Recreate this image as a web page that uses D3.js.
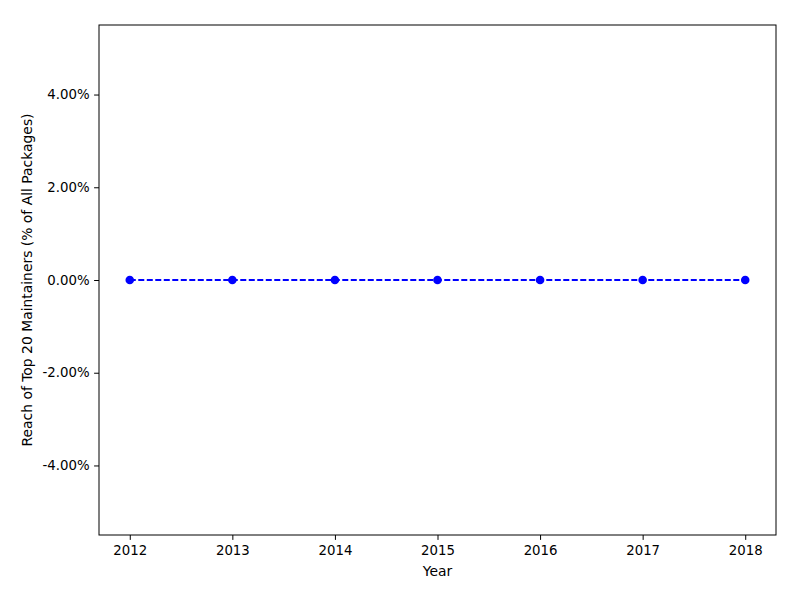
<!DOCTYPE html>
<html lang="en">
<head>
<meta charset="UTF-8">
<title>Reach of Top 20 Maintainers</title>
<script src="https://d3js.org/d3.v7.min.js"></script>
<style>
    body { margin: 0; background: #fff; }
    svg text { font-family: "DejaVu Sans", sans-serif; fill: #000; }
    .axis text { font-size: 13.3px; }
    .axis path, .axis line { stroke: #000; stroke-width: 1px; }
</style>
</head>
<body>
<svg width="800" height="600"></svg>
<script>
    // data
    const years = [2012, 2013, 2014, 2015, 2016, 2017, 2018];
    const reach = [0, 0, 0, 0, 0, 0, 0];
    const yTicks = [-0.04, -0.02, 0, 0.02, 0.04];

    const svg = d3.select("svg");
    const margin = {left: 99, right: 24, top: 25, bottom: 65};
    const w = 800 - margin.left - margin.right,
          h = 600 - margin.top - margin.bottom;

    const x = d3.scaleLinear().domain([2011.7, 2018.3]).range([0, w]);
    const y = d3.scaleLinear().domain([-0.055, 0.055]).range([h, 0]);

    const g = svg.append("g")
        .attr("transform", `translate(${margin.left},${margin.top})`);

    // x axis
    g.append("g")
        .attr("class", "axis")
        .attr("transform", `translate(0,${h})`)
        .call(d3.axisBottom(x).tickValues(years).tickFormat(d3.format("d")).tickSizeOuter(0).tickSize(4.9).tickPadding(5.5))
        .call(s => s.select(".domain").remove());

    // y axis
    g.append("g")
        .attr("class", "axis")
        .call(d3.axisLeft(y).tickValues(yTicks).tickFormat(d => (d * 100).toFixed(2) + "%").tickSizeOuter(0).tickSize(4.9).tickPadding(4.5))
        .call(s => s.select(".domain").remove());

    // frame
    g.append("rect")
        .attr("width", w).attr("height", h)
        .attr("fill", "none").attr("stroke", "#000").attr("stroke-width", 1);

    const line = d3.line()
        .x((d, i) => x(years[i]))
        .y(d => y(d));

    g.append("path")
        .datum(reach)
        .attr("fill", "none")
        .attr("stroke", "#0000ff")
        .attr("stroke-width", 2)
        .attr("stroke-dasharray", "6,2.5")
        .attr("d", line);

    g.selectAll(".dot")
        .data(reach)
        .enter().append("circle")
        .attr("class", "dot")
        .attr("cx", (d, i) => x(years[i]))
        .attr("cy", d => y(d))
        .attr("r", 4.3)
        .attr("fill", "#0000ff");

    // axis labels
    svg.append("text")
        .attr("x", margin.left + w / 2).attr("y", 576)
        .attr("text-anchor", "middle")
        .style("font-size", "13.9px")
        .text("Year");

    svg.append("text")
        .attr("transform", `translate(32,${margin.top + h / 2}) rotate(-90)`)
        .attr("text-anchor", "middle")
        .style("font-size", "13.9px")
        .text("Reach of Top 20 Maintainers (% of All Packages)");
</script>
</body>
</html>
